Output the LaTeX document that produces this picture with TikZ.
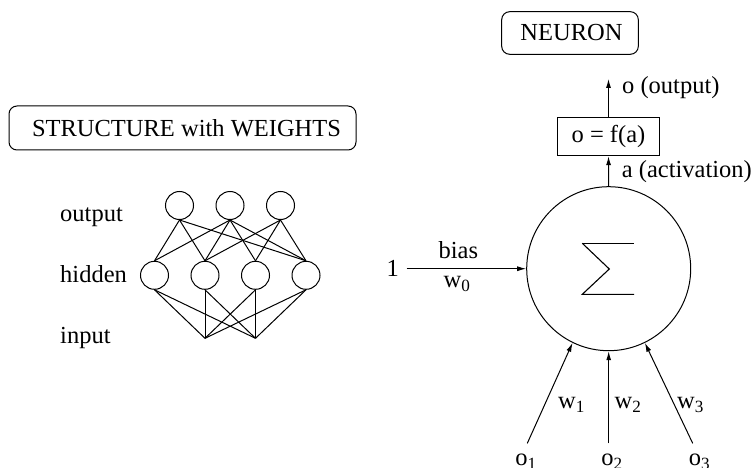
\documentclass[tikz,border=0pt]{standalone}
\usepackage{fontspec}
\setmainfont{Liberation Serif}
\usetikzlibrary{arrows.meta}
\begin{document}
\begin{tikzpicture}[x=1pt,y=-1pt,
  font=\fontsize{24.5}{29}\selectfont,
  unit/.style={circle,draw,line width=1pt,minimum size=28pt,inner sep=0pt},
  link/.style={line width=1pt},
  arr/.style={line width=1pt,-{Latex[length=9pt,width=5pt]}},
  titlebox/.style={draw,rounded corners=8pt,line width=1pt,inner sep=0pt},
  lbl/.style={inner sep=0pt}]
\useasboundingbox (0,0) rectangle (755,468);

% ---------- left: structure ----------
\node[titlebox,minimum width=347pt,minimum height=44pt] (st) at (182.5,128) {\hspace*{8pt}STRUCTURE with WEIGHTS};

\node[lbl,anchor=base west] (lout) at (60,221) {output};
\node[lbl,anchor=base west] (lhid) at (60,282.5) {hidden};
\node[lbl,anchor=base west] (lin) at (60,343) {input};

\node[unit] (o1) at (179.5,205.5) {};
\node[unit] (o2) at (230,205.5) {};
\node[unit] (o3) at (280.5,205.5) {};
\node[unit] (h1) at (154.5,275.3) {};
\node[unit] (h2) at (205,275.3) {};
\node[unit] (h3) at (255.5,275.3) {};
\node[unit] (h4) at (306,275.3) {};
\coordinate (i1) at (205,338.3);
\coordinate (i2) at (255.5,338.3);

\draw[link] (o1.south) -- (h1.north);
\draw[link] (o1.south) -- (h2.north);
\draw[link] (o1.south) -- (h4.north);
\draw[link] (o2.south) -- (h1.north);
\draw[link] (o2.south) -- (h2.north);
\draw[link] (o2.south) -- (h3.north);
\draw[link] (o2.south) -- (h4.north);
\draw[link] (o3.south) -- (h2.north);
\draw[link] (o3.south) -- (h3.north);
\draw[link] (o3.south) -- (h4.north);
\foreach \h in {h1,h2,h3,h4}{
  \draw[link] (\h.south) -- (i1);
  \draw[link] (\h.south) -- (i2);
}

% ---------- right: neuron ----------
\node[titlebox,minimum width=136.6pt,minimum height=42.6pt] (nt) at (570,33) {\hspace*{3pt}NEURON};

\node[circle,draw,line width=1pt,minimum size=164pt,inner sep=0pt] (big) at (608.7,268.7) {};
\draw[line width=1.1pt] (582.3,243.3) -- (634,243.3);
\draw[line width=1.1pt] (582.3,243.3) -- (609.3,269) -- (582.3,294.3) -- (634,294.3);

\node[draw,line width=1pt,minimum width=101.6pt,minimum height=38pt,inner sep=0pt] (f) at (608.5,136.7) {o = f(a)};
\coordinate (otip) at (608.5,79);
\draw[arr] (f.north) -- (otip);
\draw[arr] (big.north) -- (f.south);
\node[lbl,anchor=west] (olab) at (622,87.3) {o (output)};
\node[lbl,anchor=west] (alab) at (621.7,171.7) {a (activation)};

\node[lbl] (one) at (392.7,268.7) {1};
\coordinate (b0) at (406.7,268.7);
\draw[arr] (b0) -- (big.west);
\node[lbl] (bias) at (458.3,250) {bias};
\node[lbl] (w0) at (457,284) {w\textsubscript{0}};

\coordinate (s1) at (527.3,443.3);
\coordinate (s2) at (608.7,443.3);
\coordinate (s3) at (692.7,443.3);
\draw[arr] (s1) -- (big.244);
\draw[arr] (s2) -- (big.south);
\draw[arr] (s3) -- (big.296);
\node[lbl,anchor=base] (x1) at (526,465.5) {o\textsubscript{1}};
\node[lbl,anchor=base] (x2) at (612,465.5) {o\textsubscript{2}};
\node[lbl,anchor=base] (x3) at (699.5,465.5) {o\textsubscript{3}};
\node[lbl] (w1) at (571.5,405) {w\textsubscript{1}};
\node[lbl] (w2) at (628,405) {w\textsubscript{2}};
\node[lbl] (w3) at (690.5,405) {w\textsubscript{3}};
\end{tikzpicture}
\end{document}
